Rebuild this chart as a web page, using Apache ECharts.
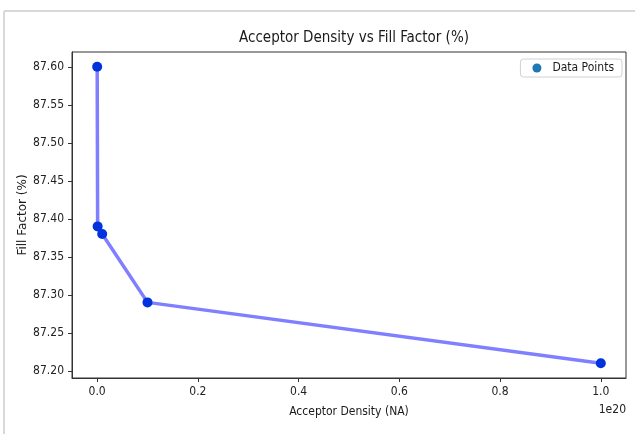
<!DOCTYPE html>
<html>
<head>
<meta charset="utf-8">
<script src="https://cdn.jsdelivr.net/npm/echarts@6/dist/echarts.min.js"></script>
<style>html,body{margin:0;padding:0;background:#fff;}#c{width:635px;height:434px;}</style>
</head>
<body>
<div id="c"></div>
<script>
// Data
const acceptorDensity = [1e16, 1e17, 1e18, 1e19, 1e20];
const fillFactor = [87.60, 87.39, 87.38, 87.29, 87.21];
const xTicks = [0.0, 0.2, 0.4, 0.6, 0.8, 1.0];
const yTicks = [87.20, 87.25, 87.30, 87.35, 87.40, 87.45, 87.50, 87.55, 87.60];
const xScale = 1e20;

const FONT = "'DejaVu Sans Condensed', 'DejaVu Sans', sans-serif";
const pts = acceptorDensity.map((x, i) => [x / xScale, fillFactor[i]]);
const xr = [Math.min(...pts.map(p=>p[0])), Math.max(...pts.map(p=>p[0]))];
const yr = [Math.min(...fillFactor), Math.max(...fillFactor)];
const xm = (xr[1]-xr[0])*0.05, ym = (yr[1]-yr[0])*0.05;

const chart = echarts.init(document.getElementById('c'), null, {renderer:'canvas'});
chart.setOption({
  animation: false,
  backgroundColor: '#fff',
  textStyle: {fontFamily: FONT},
  title: {
    text: 'Acceptor Density vs Fill Factor (%)',
    left: 349, top: 26, textAlign: 'center',
    textStyle: {fontFamily: FONT, fontSize: 15, fontWeight: 'normal', color: '#1a1a1a'}
  },
  legend: {
    right: 13, top: 59,
    orient: 'vertical',
    padding: [3, 8, 3, 12],
    borderColor: '#d0d0d0', borderWidth: 1, borderRadius: 3,
    backgroundColor: '#fff',
    icon: 'circle', itemWidth: 9, itemHeight: 9, itemGap: 8,
    textStyle: {fontFamily: FONT, fontSize: 12, color: '#1a1a1a', padding: [0,0,0,6]},
    data: [{name: 'Data Points', itemStyle: {color: '#1f77b4', opacity: 1}}]
  },
  grid: {left: 72, right: 9, top: 52, bottom: 56, show: true, borderColor: '#333', borderWidth: 1},
  xAxis: {
    type: 'value', min: xr[0]-xm, max: xr[1]+xm,
    name: 'Acceptor Density (NA)', nameLocation: 'middle', nameGap: 28, nameMoveOverlap: false,
    nameTextStyle: {fontFamily: FONT, fontSize: 12, color: '#1a1a1a'},
    axisLine: {show: true, onZero: false, lineStyle: {color: '#333'}},
    axisTick: {show: true, length: 4, lineStyle: {color: '#333'}, customValues: xTicks},
    axisLabel: {fontFamily: FONT, fontSize: 12, color: '#222', margin: 8,
      customValues: xTicks, formatter: v => v.toFixed(1)},
    splitLine: {show: false}
  },
  yAxis: {
    type: 'value', min: yr[0]-ym, max: yr[1]+ym,
    name: 'Fill Factor (%)', nameLocation: 'middle', nameGap: 43, nameMoveOverlap: false,
    nameTextStyle: {fontFamily: "'DejaVu Sans', sans-serif", fontSize: 12, color: '#1a1a1a'},
    axisLine: {show: true, onZero: false, lineStyle: {color: '#333'}},
    axisTick: {show: true, length: 4, lineStyle: {color: '#333'}, customValues: yTicks},
    axisLabel: {fontFamily: FONT, fontSize: 12, color: '#222', margin: 8,
      customValues: yTicks, formatter: v => v.toFixed(2)},
    splitLine: {show: false}
  },
  graphic: [
    {type: 'line', shape: {x1: 4, y1: 11, x2: 635, y2: 11}, style: {stroke: '#d8d8d8', lineWidth: 2}, silent: true},
    {type: 'line', shape: {x1: 4, y1: 11, x2: 4, y2: 434}, style: {stroke: '#d8d8d8', lineWidth: 2}, silent: true},
    {type: 'text', right: 9, top: 404, style: {text: '1e20', fontFamily: FONT, fontSize: 12, fill: '#222'}}
  ],
  series: [
    {
      name: 'line', type: 'line', data: pts, showSymbol: false, symbol: 'none',
      lineStyle: {color: 'rgba(0,0,255,0.5)', width: 3.5}, z: 2
    },
    {
      name: 'Data Points', type: 'scatter', symbolSize: 10,
      itemStyle: {color: '#1f77b4', opacity: 1},
      data: pts.map(p => ({value: p, itemStyle: {color: '#0033dd', opacity: 1}})), z: 3
    }
  ]
});
</script>
</body>
</html>
